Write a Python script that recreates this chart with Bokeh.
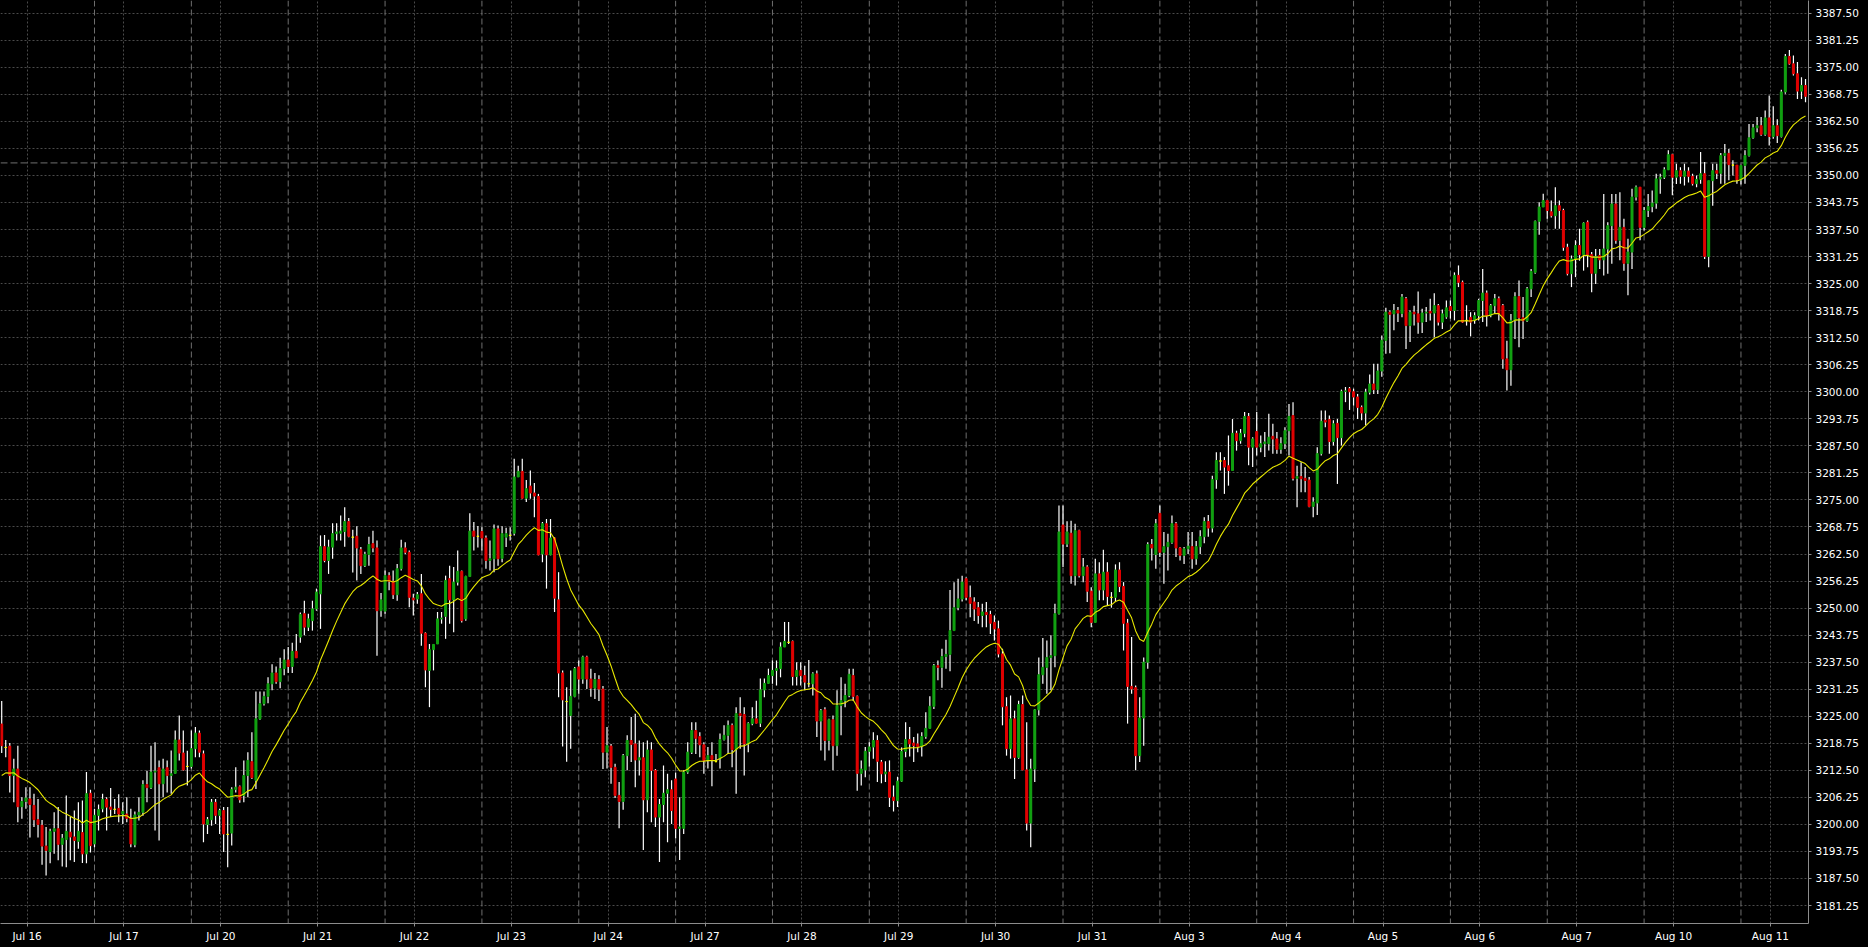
import numpy as np
from bokeh.plotting import figure
from bokeh.models import Range1d, FixedTicker, PrintfTickFormatter, Span
from bokeh.embed import file_html
from bokeh.resources import INLINE

# ---------------- data (H1 candles) ----------------
day_labels = ["Jul 16", "Jul 17", "Jul 20", "Jul 21", "Jul 22", "Jul 23", "Jul 24",
              "Jul 27", "Jul 28", "Jul 29", "Jul 30", "Jul 31", "Aug 3", "Aug 4",
              "Aug 5", "Aug 6", "Aug 7", "Aug 10", "Aug 11"]
bars_per_day = [23, 24, 24, 24, 24, 24, 24, 24, 24, 24, 24, 24, 24, 24, 24, 24, 24, 24, 17]

opens = [
    3223.2,3217.8,3218.1,3211.3,3212.8,3204.1,3205.3,3205.9,3204.4,3201.1,3199.8,3195.0,3193.7,3198.4,3199.0,3195.4,3196.5,3198.2,3197.1,3196.1,3198.1,3193.2,3207.2,
    3195.5,3202.1,3203.6,3205.8,3204.0,3203.5,3203.7,3202.4,3202.4,3201.4,3195.3,3202.2,3202.8,3209.2,3208.5,3212.1,3213.1,3209.4,3213.1,3211.3,3211.8,3219.5,3216.5,3213.4,
    3213.4,3217.5,3221.1,3216.3,3200.0,3201.1,3205.1,3202.1,3203.2,3197.7,3198.0,3208.1,3208.7,3206.7,3211.3,3214.5,3210.2,3224.4,3227.9,3229.6,3232.5,3235.0,3233.0,3236.0,
    3238.0,3236.5,3240.0,3243.3,3248.7,3245.6,3247.1,3249.8,3253.3,3264.2,3261.0,3264.1,3267.2,3267.3,3267.7,3270.0,3266.4,3266.6,3263.5,3259.8,3262.4,3264.9,3263.9,3249.4,
    3249.3,3257.5,3256.2,3253.1,3259.1,3263.9,3262.9,3252.3,3252.1,3253.3,3244.2,3235.6,3240.4,3241.7,3247.5,3248.1,3256.8,3251.9,3256.0,3258.5,3247.5,3257.3,3267.8,3266.6,
    3267.7,3266.2,3261.0,3261.4,3268.3,3261.5,3266.4,3266.8,3267.3,3280.3,3281.6,3275.4,3278.2,3276.6,3275.8,3262.5,3269.5,3262.3,3266.2,3251.9,3235.0,3228.4,3225.2,3229.6,
    3236.4,3233.6,3238.7,3233.6,3231.5,3233.5,3231.3,3216.7,3218.1,3213.2,3206.7,3205.3,3215.9,3219.4,3218.6,3214.9,3215.4,3205.7,3217.2,3212.5,3201.7,3204.6,3207.2,3208.0,
    3210.5,3199.1,3199.1,3212.1,3216.7,3221.7,3220.3,3218.4,3214.8,3215.9,3214.5,3215.2,3219.6,3220.6,3222.9,3217.3,3225.6,3225.4,3218.6,3223.3,3224.4,3223.4,3231.1,3232.6,
    3234.4,3235.6,3236.0,3241.0,3242.1,3242.3,3234.2,3235.6,3234.4,3232.5,3232.5,3234.8,3223.9,3226.5,3219.4,3224.2,3218.2,3227.5,3228.6,3229.8,3234.4,3229.6,3211.8,3212.6,
    3216.9,3217.9,3219.4,3214.4,3211.7,3212.1,3206.3,3205.5,3210.0,3216.9,3219.6,3218.8,3218.6,3218.0,3220.3,3222.2,3227.3,3236.7,3236.3,3238.8,3239.3,3244.8,3250.1,3252.1,
    3256.8,3252.4,3251.4,3250.1,3248.3,3249.0,3248.5,3246.7,3245.2,3239.4,3227.2,3217.5,3224.4,3215.5,3227.7,3212.6,3200.3,3212.8,3226.5,3234.6,3236.3,3238.6,3239.0,3248.7,
    3269.2,3264.8,3267.3,3257.5,3267.9,3257.5,3259.5,3253.9,3246.7,3257.9,3254.2,3258.3,3252.5,3252.5,3258.8,3255.0,3246.5,3231.9,3231.6,3215.9,3224.6,3237.5,3264.7,3262.4,
    3271.9,3262.9,3264.2,3265.2,3269.5,3263.9,3262.2,3263.7,3264.2,3261.4,3264.2,3266.5,3270.0,3268.5,3279.7,3284.0,3284.1,3282.9,3281.8,3290.4,3288.7,3290.4,3294.3,3287.2,
    3290.8,3287.2,3288.0,3288.0,3289.7,3289.1,3286.7,3288.0,3291.0,3294.5,3280.0,3280.4,3280.0,3279.6,3273.5,3274.3,3285.7,3293.4,3293.6,3288.5,3292.7,3289.4,3300.1,3300.7,
    3300.0,3298.8,3296.4,3295.1,3299.9,3301.8,3300.5,3304.8,3311.9,3318.4,3318.0,3318.8,3318.1,3321.5,3315.3,3318.4,3318.0,3316.1,3318.2,3318.6,3318.2,3319.9,3316.1,3317.3,
    3319.7,3318.8,3326.9,3325.3,3316.5,3317.2,3316.5,3317.6,3321.1,3322.8,3317.6,3319.9,3321.5,3319.9,3307.6,3305.1,3316.5,3322.0,3317.1,3316.4,3323.8,3327.6,3339.4,3342.7,
    3344.2,3341.6,3340.7,3343.0,3341.9,3333.4,3327.3,3330.7,3333.8,3331.7,3339.2,3331.7,3327.4,3331.5,3330.5,3333.0,3338.4,3343.4,3335.0,3338.0,3329.7,3332.3,3345.0,3347.3,
    3338.0,3341.9,3342.8,3343.6,3349.2,3349.6,3351.3,3354.8,3349.6,3351.1,3349.8,3351.0,3349.8,3348.1,3349.1,3350.4,3331.3,3348.8,3351.1,3350.5,3354.6,3355.1,3352.4,3352.4,
    3349.0,3352.3,3354.6,3358.7,3361.0,3361.5,3359.5,3363.3,3359.0,3361.5,3359.0,3369.3,3377.5,3375.8,3373.5,3369.5,3370.8,
]
highs = [
    3228.5,3219.5,3218.8,3215.2,3218.2,3206.3,3208.6,3208.6,3207.1,3205.9,3201.0,3199.4,3199.0,3202.8,3204.0,3197.8,3206.7,3201.7,3203.2,3205.1,3205.5,3212.1,3208.0,
    3203.6,3204.6,3207.1,3206.3,3208.4,3205.9,3207.0,3205.1,3206.3,3203.6,3203.0,3206.3,3210.2,3212.4,3218.2,3219.0,3214.8,3215.2,3214.8,3217.1,3221.7,3225.2,3221.7,3217.0,
    3221.7,3222.5,3221.7,3217.1,3201.7,3205.9,3205.9,3203.6,3204.0,3204.0,3208.6,3213.2,3209.0,3214.8,3216.7,3221.3,3230.7,3230.7,3230.7,3234.0,3237.0,3236.5,3238.5,3240.5,
    3241.0,3242.0,3244.0,3249.0,3251.7,3248.7,3251.7,3254.5,3266.8,3266.9,3265.8,3269.6,3269.6,3271.4,3273.3,3270.8,3268.1,3268.9,3264.1,3263.0,3266.5,3267.9,3265.6,3253.5,
    3258.7,3258.3,3258.7,3260.2,3265.8,3265.2,3263.3,3253.3,3253.7,3257.9,3244.4,3241.7,3241.7,3249.1,3249.1,3257.5,3259.8,3259.5,3263.3,3258.7,3257.5,3271.9,3269.9,3269.0,
    3268.7,3266.8,3265.6,3269.3,3269.1,3268.9,3268.6,3268.7,3284.5,3282.9,3284.5,3279.6,3281.8,3278.9,3276.4,3269.9,3270.6,3270.6,3266.4,3258.3,3235.6,3231.7,3235.6,3236.4,
    3237.9,3239.0,3239.0,3236.0,3235.0,3234.5,3232.0,3222.5,3218.6,3214.0,3209.8,3216.3,3220.6,3224.8,3225.6,3219.4,3219.0,3219.4,3219.0,3212.8,3205.9,3213.6,3211.7,3210.2,
    3212.0,3206.3,3212.5,3219.0,3223.6,3223.6,3221.3,3219.0,3217.9,3219.0,3216.3,3221.0,3222.9,3224.0,3223.3,3227.1,3229.4,3227.1,3223.6,3227.1,3228.6,3233.7,3233.7,3236.0,
    3237.9,3237.9,3242.1,3246.8,3246.8,3242.5,3237.5,3237.5,3236.7,3238.0,3235.2,3235.6,3226.7,3227.1,3224.4,3225.2,3231.0,3234.0,3232.5,3236.0,3236.0,3229.8,3214.8,3217.9,
    3219.0,3221.3,3220.6,3214.9,3214.6,3214.8,3209.0,3211.0,3217.8,3223.6,3222.5,3220.2,3221.0,3221.3,3225.9,3229.6,3237.1,3237.9,3240.6,3242.7,3254.2,3256.0,3256.8,3257.5,
    3257.1,3255.2,3252.5,3251.4,3251.0,3251.4,3249.4,3248.3,3247.1,3240.6,3229.4,3229.8,3226.3,3228.6,3229.8,3223.6,3215.2,3226.7,3238.6,3243.1,3242.5,3243.7,3251.0,3273.7,
    3273.7,3270.1,3270.2,3269.5,3268.1,3261.6,3259.9,3254.8,3261.4,3260.6,3263.5,3260.6,3253.7,3260.1,3260.6,3256.0,3247.5,3243.3,3232.1,3229.4,3238.6,3265.2,3266.0,3270.6,
    3273.7,3267.6,3267.2,3271.4,3269.9,3264.1,3264.1,3267.6,3267.6,3265.5,3268.0,3271.0,3271.5,3280.6,3286.0,3286.0,3284.9,3289.9,3293.7,3291.0,3291.4,3295.3,3295.1,3289.5,
    3295.3,3289.9,3290.7,3294.9,3292.6,3290.7,3289.5,3291.8,3297.2,3297.6,3282.9,3283.7,3282.6,3280.3,3275.6,3287.2,3295.7,3295.7,3294.5,3293.4,3293.7,3300.5,3301.1,3301.1,
    3300.7,3299.5,3296.8,3300.7,3304.0,3306.5,3306.5,3313.0,3319.4,3318.8,3320.3,3319.6,3322.6,3321.9,3318.8,3319.9,3323.2,3319.2,3319.6,3321.5,3322.8,3320.3,3319.0,3321.1,
    3321.1,3327.6,3329.2,3325.7,3320.0,3318.4,3318.4,3321.5,3328.4,3323.4,3320.3,3322.6,3322.0,3320.3,3311.8,3318.0,3323.0,3325.7,3321.9,3324.2,3328.4,3339.6,3343.8,3345.8,
    3344.2,3344.2,3347.3,3344.2,3342.3,3334.2,3331.5,3335.0,3337.7,3339.2,3339.6,3332.3,3333.0,3333.0,3345.7,3339.2,3345.7,3345.7,3346.1,3340.0,3335.4,3346.9,3347.7,3347.3,
    3342.7,3345.7,3346.5,3350.4,3350.4,3351.9,3355.8,3355.0,3352.7,3351.9,3352.7,3351.9,3350.4,3350.0,3355.4,3353.1,3348.8,3352.7,3352.7,3355.2,3357.3,3356.1,3353.5,3352.4,
    3352.5,3355.8,3361.9,3361.9,3363.5,3363.5,3365.0,3368.5,3366.0,3363.0,3369.8,3378.1,3379.0,3377.7,3376.2,3372.7,3372.3,
]
lows = [
    3216.5,3215.5,3207.4,3205.1,3200.5,3201.3,3203.6,3197.0,3199.4,3197.0,3190.7,3188.2,3191.0,3193.2,3191.7,3190.3,3190.1,3191.7,3191.3,3194.4,3191.1,3191.0,3193.5,
    3194.7,3198.6,3202.8,3198.6,3201.7,3202.4,3200.5,3200.1,3200.5,3194.7,3194.7,3200.9,3202.0,3205.1,3208.2,3198.6,3196.3,3206.3,3207.4,3207.1,3211.7,3214.8,3212.4,3209.0,
    3212.9,3215.5,3215.5,3195.9,3197.8,3199.7,3200.1,3197.8,3193.6,3190.1,3195.1,3207.4,3205.0,3205.1,3206.3,3210.5,3208.2,3224.2,3227.5,3228.0,3231.0,3232.5,3231.5,3234.5,
    3235.0,3235.0,3238.5,3242.0,3243.7,3244.7,3244.8,3249.4,3245.2,3260.6,3257.9,3261.4,3265.6,3265.6,3264.2,3266.4,3258.2,3256.4,3257.9,3259.5,3259.8,3262.9,3239.0,3248.0,
    3248.7,3254.1,3252.1,3251.7,3258.7,3262.5,3250.2,3248.3,3251.0,3241.3,3231.7,3227.1,3235.6,3241.7,3246.4,3242.9,3246.4,3244.4,3255.2,3246.7,3247.1,3257.3,3263.3,3264.0,
    3263.3,3259.1,3258.7,3258.3,3259.8,3260.6,3264.1,3265.6,3266.8,3280.3,3275.3,3274.5,3275.3,3271.0,3262.2,3260.6,3254.5,3262.2,3249.1,3229.4,3218.0,3214.5,3217.5,3229.4,
    3230.2,3232.5,3231.3,3229.5,3229.0,3228.5,3212.8,3212.9,3209.4,3206.1,3199.1,3203.4,3212.5,3214.4,3208.6,3211.3,3194.1,3202.8,3200.5,3199.4,3191.3,3200.5,3195.9,3200.1,
    3196.8,3191.8,3197.8,3211.7,3216.3,3216.3,3215.5,3211.7,3212.9,3208.8,3214.4,3212.9,3219.4,3216.3,3213.2,3207.1,3217.5,3211.3,3216.7,3222.9,3223.3,3222.5,3229.4,3232.5,
    3232.5,3232.1,3234.0,3241.0,3241.7,3232.1,3232.1,3232.1,3231.0,3231.7,3229.8,3220.2,3217.1,3214.8,3217.1,3212.5,3215.9,3220.6,3227.1,3229.4,3228.6,3207.8,3209.0,3210.9,
    3213.4,3215.2,3209.8,3209.5,3209.8,3204.0,3203.0,3204.0,3209.8,3215.5,3215.7,3214.4,3216.7,3215.7,3219.8,3222.1,3226.7,3233.3,3231.6,3236.0,3235.4,3244.8,3249.5,3251.5,
    3251.8,3247.9,3247.0,3246.4,3245.6,3245.6,3244.0,3242.5,3238.6,3222.9,3215.9,3215.2,3210.5,3215.2,3212.5,3198.6,3194.7,3209.8,3225.2,3232.5,3230.2,3231.0,3236.3,3248.5,
    3259.5,3264.1,3255.6,3255.2,3257.1,3256.0,3251.4,3245.6,3246.7,3251.8,3251.8,3250.6,3250.1,3251.4,3253.7,3240.2,3223.3,3230.2,3212.5,3214.4,3218.2,3236.0,3261.0,3259.1,
    3261.8,3255.6,3258.7,3264.9,3261.8,3261.0,3260.2,3262.5,3259.1,3260.0,3262.5,3265.0,3266.5,3267.5,3277.6,3281.8,3276.4,3278.3,3281.8,3286.4,3288.0,3289.5,3283.0,3282.6,
    3285.3,3286.0,3284.9,3286.4,3285.7,3285.7,3285.7,3286.8,3285.3,3279.5,3273.3,3276.8,3276.8,3273.3,3271.0,3271.5,3285.3,3291.8,3285.7,3287.6,3278.7,3287.6,3297.6,3295.8,
    3296.8,3293.7,3293.4,3292.2,3299.4,3299.5,3299.5,3303.5,3308.8,3308.9,3314.2,3316.1,3317.2,3309.9,3311.5,3315.3,3313.4,3313.6,3316.1,3316.5,3312.6,3315.3,3314.5,3316.9,
    3316.9,3316.5,3324.2,3315.9,3315.3,3312.8,3315.7,3316.5,3316.1,3315.1,3317.2,3318.0,3316.5,3305.3,3300.3,3301.4,3312.2,3310.3,3312.2,3316.1,3321.9,3327.3,3336.3,3342.7,
    3340.0,3340.3,3337.7,3337.7,3332.6,3326.9,3324.2,3326.5,3330.3,3328.0,3328.8,3323.0,3324.9,3328.4,3326.9,3327.3,3329.6,3334.2,3330.4,3328.0,3322.3,3328.4,3344.2,3335.0,
    3337.3,3340.4,3341.5,3342.3,3345.8,3349.2,3351.3,3345.4,3348.0,3348.1,3347.7,3348.4,3347.7,3347.3,3348.1,3330.7,3328.8,3343.0,3349.2,3348.1,3348.1,3348.9,3350.0,3348.1,
    3347.9,3348.1,3354.4,3358.5,3360.0,3359.2,3359.2,3356.9,3358.5,3357.5,3358.8,3368.9,3375.6,3373.1,3367.7,3367.7,3366.9,
]
closes = [
    3218.2,3217.8,3211.3,3212.8,3204.1,3205.3,3206.1,3204.6,3201.1,3200.0,3195.0,3194.0,3198.4,3199.0,3195.4,3196.8,3198.4,3197.1,3196.3,3198.4,3193.2,3207.1,3195.1,
    3202.1,3203.4,3205.8,3204.0,3203.5,3203.5,3202.4,3203.0,3201.4,3195.5,3202.2,3202.8,3209.2,3208.5,3212.1,3212.3,3209.4,3212.8,3211.3,3211.7,3219.5,3216.5,3212.6,3213.4,
    3217.5,3221.1,3216.7,3200.1,3201.1,3205.1,3202.1,3203.2,3197.8,3197.7,3208.1,3208.6,3205.7,3211.3,3214.8,3210.8,3224.4,3227.9,3229.6,3232.5,3235.0,3233.0,3236.0,3238.0,
    3236.5,3240.0,3238.5,3248.5,3245.6,3247.5,3249.8,3253.7,3264.2,3261.0,3264.1,3267.2,3267.6,3267.8,3270.0,3266.6,3266.4,3263.9,3259.8,3262.4,3264.7,3263.9,3249.4,3251.9,
    3257.5,3256.2,3253.1,3259.1,3263.9,3262.9,3252.5,3251.9,3253.1,3244.2,3235.7,3240.4,3241.6,3247.5,3247.7,3256.4,3251.9,3256.0,3258.5,3247.1,3257.3,3267.8,3266.6,3266.6,
    3266.2,3261.0,3261.4,3268.3,3261.4,3267.2,3267.2,3266.8,3280.3,3281.6,3275.4,3277.6,3276.6,3275.9,3262.3,3269.5,3262.3,3266.2,3252.3,3235.0,3228.8,3228.4,3229.6,3236.0,
    3233.6,3238.7,3233.6,3231.5,3233.5,3231.3,3216.7,3218.2,3213.2,3206.7,3205.3,3215.9,3219.4,3218.5,3214.9,3215.4,3205.7,3217.2,3212.5,3201.7,3204.6,3207.2,3208.0,3203.2,
    3199.1,3199.4,3212.1,3216.7,3221.7,3219.9,3218.4,3214.8,3215.9,3215.0,3214.5,3219.6,3220.6,3222.9,3217.3,3225.6,3225.2,3218.6,3223.3,3224.4,3223.4,3231.1,3232.6,3234.4,
    3235.6,3236.0,3241.0,3242.3,3242.1,3234.2,3235.6,3234.4,3232.9,3232.5,3234.8,3223.9,3226.3,3219.4,3224.2,3218.2,3227.5,3228.6,3229.8,3234.7,3229.6,3211.8,3212.8,3216.9,
    3217.9,3219.4,3214.6,3211.7,3212.1,3206.3,3205.5,3210.0,3216.9,3219.6,3218.6,3218.2,3218.0,3220.3,3222.2,3227.3,3236.7,3236.3,3238.8,3239.3,3244.8,3250.1,3252.1,3256.0,
    3252.5,3251.1,3249.8,3248.3,3249.1,3248.5,3246.5,3245.2,3239.4,3227.2,3217.5,3224.4,3215.5,3227.7,3212.6,3200.3,3212.8,3226.5,3234.6,3236.3,3238.6,3239.0,3248.7,3267.6,
    3264.8,3267.6,3257.5,3267.9,3257.5,3259.5,3253.9,3246.7,3257.9,3254.2,3258.3,3252.7,3252.5,3258.8,3255.0,3246.5,3231.9,3231.3,3215.9,3224.6,3237.5,3264.7,3263.9,3269.5,
    3262.9,3264.2,3265.2,3269.5,3263.9,3262.2,3263.7,3264.3,3261.4,3264.2,3266.5,3270.0,3268.5,3279.7,3284.1,3284.0,3282.6,3281.8,3290.4,3288.7,3290.4,3294.3,3287.2,3289.1,
    3287.2,3288.0,3288.4,3289.5,3289.1,3286.7,3288.0,3291.0,3294.3,3280.0,3280.4,3279.9,3279.5,3273.5,3274.5,3285.7,3293.2,3293.0,3288.5,3292.6,3289.4,3300.1,3300.2,3300.0,
    3298.8,3296.4,3295.1,3299.9,3301.8,3300.5,3304.8,3311.9,3318.4,3317.9,3318.8,3318.2,3321.9,3315.3,3318.4,3318.0,3316.1,3318.2,3318.4,3318.2,3319.9,3316.1,3318.0,3319.4,
    3318.8,3326.9,3325.3,3316.1,3316.5,3316.1,3317.6,3321.1,3322.8,3317.6,3319.9,3321.5,3318.0,3307.6,3305.1,3316.5,3322.0,3317.1,3316.4,3323.8,3327.8,3339.4,3342.7,3344.2,
    3341.9,3340.7,3343.0,3341.9,3333.4,3327.3,3330.7,3333.8,3331.7,3339.0,3331.7,3327.4,3331.3,3330.5,3333.0,3338.4,3343.4,3335.0,3338.0,3329.7,3332.3,3345.0,3347.3,3338.0,
    3341.9,3342.8,3343.6,3349.2,3349.6,3351.3,3354.8,3349.6,3351.1,3349.8,3351.0,3349.8,3348.1,3349.1,3350.4,3331.3,3348.8,3351.1,3350.5,3354.6,3355.1,3352.5,3352.4,3349.0,
    3352.3,3354.6,3358.7,3361.0,3361.5,3359.5,3363.3,3359.0,3361.5,3359.2,3369.3,3377.5,3375.8,3373.5,3369.5,3370.8,3368.3,
]
ma_period = 20
ma_seed = 3211.3
level_line = 3352.9

# ---------------- styling ----------------
BG = "#000000"
BULL = "#10a010"
BEAR = "#e00000"
WICK = "#ffffff"
DOJI = "#ffff00"
MA_COL = "#e8e800"
GRID = "#4a4a4a"
SEP = "#6e6e6e"
AXIS = "#8c8c8c"
TXT = "#ffffff"
FONT = "DejaVu Sans"
FSIZE = "10.5px"

o = np.array(opens, dtype=float)
h = np.array(highs, dtype=float)
l = np.array(lows, dtype=float)
c = np.array(closes, dtype=float)
n = len(c)
assert len(o) == n and len(h) == n and len(l) == n and sum(bars_per_day) == n
h = np.maximum(h, np.maximum(o, c))
l = np.minimum(l, np.minimum(o, c))
x = np.arange(n, dtype=float)

alpha = 2.0 / (ma_period + 1)
ma = np.empty(n)
ma[0] = ma_seed
for i in range(1, n):
    ma[i] = ma[i - 1] + alpha * (c[i] - ma[i - 1])

bar_px = 4.0354          # horizontal pixels per bar
first_px = 1.2           # pixel position of bar 0
frame_w, frame_h = 1808, 923
x0 = -first_px / bar_px
x1 = x0 + frame_w / bar_px
y_top, y_bot = 3390.44, 3390.44 - frame_h / 4.3264

p = figure(frame_width=frame_w, frame_height=frame_h,
           x_range=Range1d(x0, x1), y_range=Range1d(y_bot, y_top),
           y_axis_location="right", output_backend="svg", toolbar_location=None,
           background_fill_color=BG, border_fill_color=BG, outline_line_color=None,
           min_border_left=0, min_border_top=0, min_border_right=60, min_border_bottom=24)

# axes
price_ticks = list(np.arange(3181.25, 3387.51, 6.25))
yax = p.yaxis[0]
yax.ticker = FixedTicker(ticks=price_ticks)
yax.formatter = PrintfTickFormatter(format="%.2f")
day_starts = []
cum = 0
for k, cnt in enumerate(bars_per_day):
    if k > 0:
        day_starts.append(cum)
    cum += cnt
label_pos = [round(6.3 + 24 * k, 2) for k in range(len(day_labels))]
xax = p.xaxis[0]
xax.ticker = FixedTicker(ticks=label_pos)
xax.major_label_overrides = {lp: lab for lp, lab in zip(label_pos, day_labels)}
for ax in (xax, yax):
    ax.axis_line_color = AXIS
    ax.major_tick_line_color = AXIS
    ax.major_tick_out = 3
    ax.major_tick_in = 0
    ax.minor_tick_out = 0
    ax.minor_tick_in = 0
    ax.major_label_text_color = TXT
    ax.major_label_text_font = FONT
    ax.major_label_text_font_size = FSIZE
yax.major_label_standoff = 4
xax.major_label_standoff = 3

for g in (p.xgrid[0], p.ygrid[0]):
    g.grid_line_color = GRID
    g.grid_line_dash = "2 2"
    g.grid_line_width = 1

for s in day_starts:
    p.add_layout(Span(location=s, dimension="height", line_color=SEP,
                      line_dash="6 3", line_width=1, level="underlay"))
p.add_layout(Span(location=level_line, dimension="width", line_color=SEP,
                  line_dash="7 3", line_width=1, level="underlay"))

# candles
p.segment(x0=x, y0=l, x1=x, y1=h, line_color=WICK, line_width=1.2)
bull = c > o
bear = c < o
doji = c == o
bw = 2.0 / bar_px
p.vbar(x=x[bull], width=bw, top=c[bull], bottom=o[bull],
       fill_color=BULL, line_color=BULL, line_width=1)
p.vbar(x=x[bear], width=bw, top=o[bear], bottom=c[bear],
       fill_color=BEAR, line_color=BEAR, line_width=1)
p.rect(x=x[doji], y=c[doji], width=bw, height=0.05,
       fill_color=DOJI, line_color=DOJI, line_width=1)

p.line(x=x, y=ma, line_color=MA_COL, line_width=1.1)

html = file_html(p, INLINE, title="US500 H1")
html = html.replace("<head>", "<head><style>html,body{margin:0;padding:0;background:#000000;overflow:hidden;}</style>", 1)
open("out.html", "w").write(html)
